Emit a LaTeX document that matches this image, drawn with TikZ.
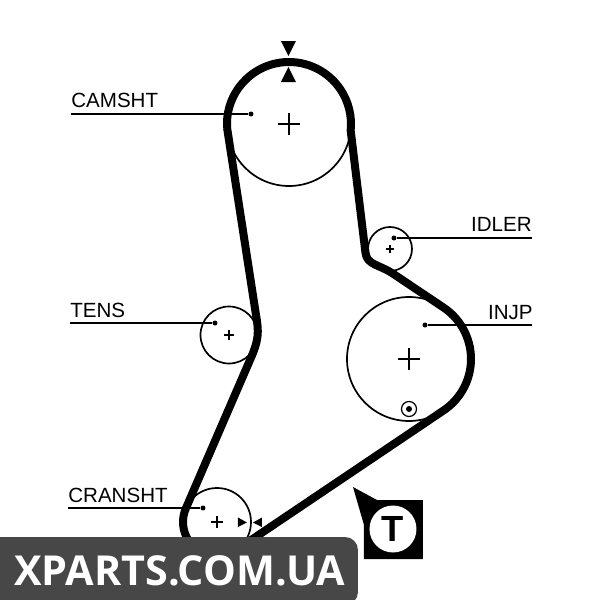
\documentclass[tikz,border=0pt]{standalone}
\usepackage{fontspec}
\setmainfont{Liberation Sans}
\newfontfamily\bannerfont{Open Sans}
\usetikzlibrary{positioning}
\newcommand{\myunit}{0.02cm}
\tikzset{
    pulleysty/.style={draw,circle,line width=0.034cm,inner sep=0pt,outer sep=0pt},
    beltsty/.style={line width=0.16cm,line join=round},
    leadsty/.style={line width=0.03cm},
    marksty/.style={line width=0.034cm},
    dotsty/.style={fill,circle,inner sep=0pt,minimum size=5*\myunit},
    textsty/.style={inner sep=0pt,font=\fontsize{11.7pt}{12pt}\selectfont,text=black},
    tabsty/.style={fill=black!72},
}
\begin{document}
\begin{tikzpicture}[x=\myunit,y=\myunit]
  \useasboundingbox (0,0) rectangle (600,600);
  \fill[white] (0,0) rectangle (600,600);

  % pulleys
  \node (cam) [pulleysty,minimum size=124*\myunit] at (289,476) {};
  \node (idl) [pulleysty,minimum size=44*\myunit] at (390,351) {};
  \node (inj) [pulleysty,minimum size=124*\myunit] at (409,241) {};
  \node (ten) [pulleysty,minimum size=57*\myunit] at (229,265) {};
  \node (cra) [pulleysty,minimum size=68*\myunit] at (217,78) {};

  % belt
  \draw[beltsty] (cam.184) arc (184:-6:62) -- (365.5,347)
    .. controls (367,335) and (380,335) .. (392,327) -- (inj.56)
    arc (56:-56:62) -- (cra.-56) arc (-56:-205:34) -- (250,240)
    .. controls (259,260) and (259,268) .. (256,285) -- (cam.184);

  % centre marks
  \foreach \nm/\arm in {cam/11,inj/11,idl/4,ten/5,cra/6}
    \draw[marksty] (\nm.center) +(-\arm,0) -- +(\arm,0) +(0,-\arm) -- +(0,\arm);

  % timing marks
  \fill (281,559) -- (296,559) -- (288.5,544) -- cycle;
  \fill (281,518) -- (296,518) -- (288.5,533) -- cycle;
  \fill (238,82.5) -- (238,73) -- (247,77.5) -- cycle;
  \fill (262,82.5) -- (262,73) -- (253,77.5) -- cycle;

  % labels
  \node (camtxt) [textsty,anchor=base west] at (71,493) {CAMSHT};
  \node (idltxt) [textsty,anchor=base east] at (532,369) {IDLER};
  \node (injtxt) [textsty,anchor=base east] at (533,281) {INJP};
  \node (tentxt) [textsty,anchor=base west] at (70,283) {TENS};
  \node (cratxt) [textsty,anchor=base west] at (68,97) {CRANSHT};

  \node (camdot) [dotsty] at (251,486) {};
  \node (idldot) [dotsty] at (394,362) {};
  \node (injdot) [dotsty] at (425,275) {};
  \node (tendot) [dotsty] at (215,277) {};
  \node (cradot) [dotsty] at (203,92) {};

  \coordinate (camend) at (71,486);
  \coordinate (idlend) at (532,362);
  \coordinate (injend) at (532,275);
  \coordinate (tenend) at (70,277);
  \coordinate (craend) at (68,92);

  \draw[leadsty] (camend) -- (camdot);
  \draw[leadsty] (idlend) -- (idldot);
  \draw[leadsty] (injend) -- (injdot);
  \draw[leadsty] (tenend) -- (tendot);
  \draw[leadsty] (craend) -- (cradot);

  % injection pump mark
  \node (injring) [pulleysty,fill=white,minimum size=15*\myunit,line width=0.025cm] at (409,191) {};
  \node (injpin) [fill,circle,inner sep=0pt,minimum size=6*\myunit] at (injring) {};

  % T badge
  \fill (353,113) -- (377,100) -- (423,100) -- (423,41) -- (364,41) -- (364,75) -- cycle;
  \node (tcirc) [circle,fill=white,inner sep=0pt,minimum size=47*\myunit] at (393,71) {};
  \node (tlab) [inner sep=0pt,font=\fontsize{20.7pt}{21pt}\selectfont\bfseries] at (tcirc) {T};

  % banner
  \fill[tabsty,rounded corners=0.26cm] (0,-5) -- (0,63) -- (358,63) -- (358,-5) -- cycle;
  \fill[tabsty] (0,0) rectangle (12,63);
  \node (bantxt) [inner sep=0pt,anchor=base west,text=white,font=\bannerfont\bfseries\fontsize{23.5pt}{24pt}\selectfont] at (14,14) {XPARTS.COM.UA};
\end{tikzpicture}
\end{document}
